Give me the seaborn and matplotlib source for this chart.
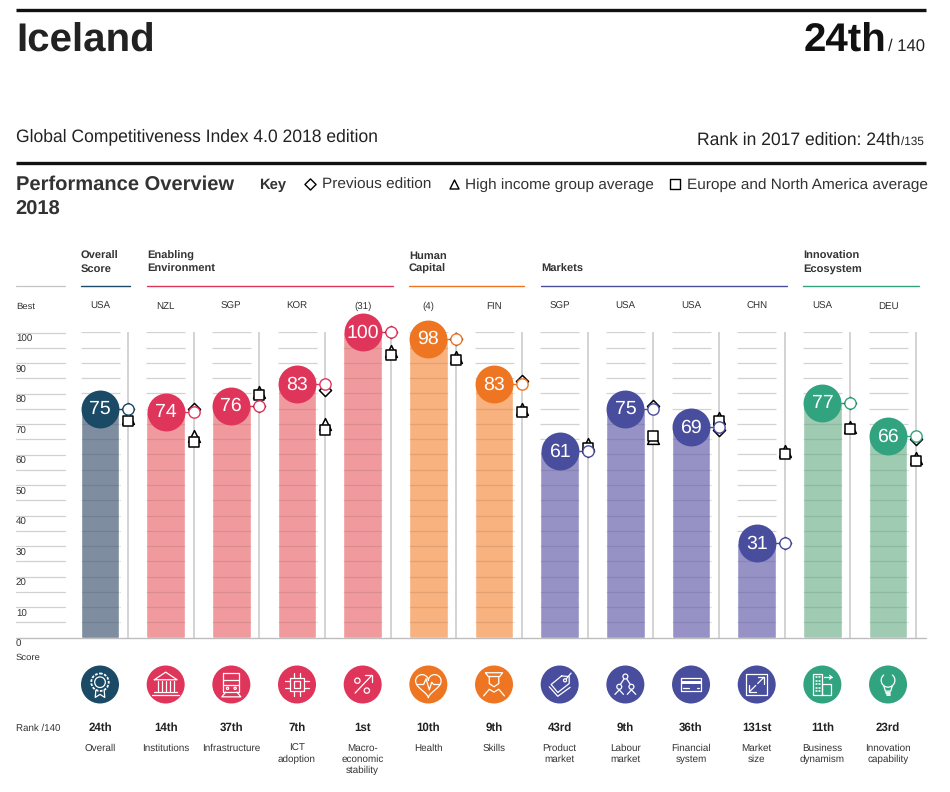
import numpy as np
import pandas as pd
import matplotlib
matplotlib.use("Agg")
import matplotlib.pyplot as plt
from matplotlib.patches import Circle, Rectangle
import seaborn as sns

pillars = ["Overall", "Institutions", "Infrastructure", "ICT\nadoption", "Macro-\neconomic\nstability",
           "Health", "Skills", "Product\nmarket", "Labour\nmarket", "Financial\nsystem",
           "Market\nsize", "Business\ndynamism", "Innovation\ncapability"]
groups = ["overall", "enabling", "enabling", "enabling", "enabling", "human", "human",
          "markets", "markets", "markets", "markets", "innovation", "innovation"]
scores = [75, 74, 76, 83, 100, 98, 83, 61, 75, 69, 31, 77, 66]
previous = [75, 75, 76, 81, 100, 98, 84, 61, 76, 68, 31, 77, 65]
high_income = [72, 66, 80.5, 70, 94, 92, 75, 63.5, 65.5, 72, 61, 69, 59]
europe = [71, 64, 79.5, 68, 92.5, 91, 74, 62, 66, 71, 60, 68.5, 58]
best = ["USA", "NZL", "SGP", "KOR", "(31)", "(4)", "FIN", "SGP", "USA", "USA", "CHN", "USA", "DEU"]
ranks = ["24th", "14th", "37th", "7th", "1st", "10th", "9th", "43rd", "9th", "36th", "131st", "11th", "23rd"]
tick_values = [0, 10, 20, 30, 40, 50, 60, 70, 80, 90, 100]

dark = {"overall": "#1B4A66", "enabling": "#E0355B", "human": "#EE7623",
        "markets": "#484D9E", "innovation": "#31A37F"}
light = {"overall": "#7F8DA0", "enabling": "#F09A9E", "human": "#F8B27F",
         "markets": "#9692C6", "innovation": "#9FCBB2"}
headers = [("Overall\nScore", 81, 130, "overall"), ("Enabling\nEnvironment", 147, 393, "enabling"),
           ("Human\nCapital", 409, 524, "human"), ("Markets", 541, 787, "markets"),
           ("Innovation\nEcosystem", 803, 919, "innovation")]

sns.set_style("white")
plt.rcParams["font.family"] = ["Liberation Sans", "DejaVu Sans"]
plt.rcParams["text.hinting"] = "no_hinting"

W, H = 950, 792
X0, DX = 100.0, 65.67
Y0, Y100 = 637.5, 332.5
fig = plt.figure(figsize=(W / 100, H / 100), dpi=100)
ax = fig.add_axes([0, (H - Y0) / H, 1, (Y0 - Y100) / H])
ax.patch.set_alpha(0)

df = pd.DataFrame({"idx": np.arange(len(pillars)), "score": scores, "group": groups,
                   "prev": previous, "high": high_income, "eur": europe})
sns.barplot(data=df, x="idx", y="score", hue="group", palette=light, dodge=False, native_scale=True,
            width=38.5 / DX, saturation=1, legend=False, ax=ax, zorder=1)
idx = df["idx"].to_numpy()
offset = 28 / DX
half = 19.5 / DX
levels = np.arange(5, 101, 5)
for i in idx:
    ax.vlines(i + offset, 0, 100, color="#C8C8C8", lw=1.1, zorder=2)
    ax.hlines(levels, i - half, i + half, color="#D2D2D2", lw=0.9, zorder=0.5)
    inside = levels[levels < scores[i]]
    ax.hlines(inside, i - half, i + half, color="black", alpha=0.09, lw=0.9, zorder=2)
    ax.plot([i, i + offset], [scores[i]] * 2, color=dark[groups[i]], lw=1, zorder=3, clip_on=False)

common = dict(ax=ax, clip_on=False, legend=False, edgecolor="black", linewidth=1.1, color="white")
sns.scatterplot(data=df, x=idx + offset, y="prev", marker="D", s=38, zorder=4, **common)
sns.scatterplot(data=df, x=idx + offset, y="high", marker="^", s=72, zorder=5, **common)
sns.scatterplot(data=df, x=idx + offset, y="eur", marker="s", s=44, zorder=6, **common)
for i in idx:
    ax.scatter(i + offset, scores[i], s=66, facecolor="white", edgecolor=dark[groups[i]],
               linewidth=1, zorder=7, clip_on=False)
    ax.scatter(i, scores[i], s=745, color=dark[groups[i]], linewidth=0, zorder=8, clip_on=False)
    ax.text(i, scores[i] - 0.2, str(scores[i]), color="white", fontsize=14, ha="center", va="center", zorder=9)
ax.set_xlim(-X0 / DX, (W - X0) / DX)
ax.set_ylim(0, 100)
ax.axis("off")

# ---- page furniture in pixel coordinates
pg = fig.add_axes([0, 0, 1, 1], zorder=-1)
pg.set_xlim(0, W); pg.set_ylim(H, 0); pg.axis("off")
ic = fig.add_axes([0, 0, 1, 1], zorder=5)
ic.set_xlim(0, W); ic.set_ylim(H, 0); ic.axis("off"); ic.patch.set_alpha(0)

pg.plot([16, 926], [10, 10], color="#111111", lw=2.4, solid_capstyle="butt")
pg.plot([16, 926], [163, 163], color="#111111", lw=2.4, solid_capstyle="butt")
pg.text(16, 52, "Iceland", fontsize=29, fontweight="bold", color="#222222", ha="left", va="baseline")
pg.text(886, 52, "24th", fontsize=29, fontweight="bold", color="#111111", ha="right", va="baseline")
pg.text(888, 51, "/ 140", fontsize=12, color="#222222", ha="left", va="baseline")
pg.text(16, 141, "Global Competitiveness Index 4.0 2018 edition", fontsize=12.65, color="#222222", va="baseline")
pg.text(900, 145, "Rank in 2017 edition: 24th", fontsize=12.65, color="#222222", ha="right", va="baseline")
pg.text(901, 145, "/135", fontsize=8.5, color="#222222", ha="left", va="baseline")
pg.text(16, 190, "Performance Overview", fontsize=14.5, fontweight="bold", color="#333333", va="baseline")
pg.text(15, 215, "2018", fontsize=14.5, fontweight="bold", color="#333333", va="baseline")
pg.text(259, 189, "Key", fontsize=10.6, fontweight="bold", color="#333333", va="baseline")
pg.text(322, 189, "Previous edition", fontsize=11.1, color="#333333", va="baseline")
pg.text(465, 189, "High income group average", fontsize=11.1, color="#333333", va="baseline")
pg.text(687, 189, "Europe and North America average", fontsize=11.1, color="#333333", va="baseline")
pg.scatter([310], [184], marker="D", s=32, facecolor="white", edgecolor="black", linewidth=1)
pg.scatter([454], [184], marker="^", s=42, facecolor="white", edgecolor="black", linewidth=1)
pg.scatter([675], [184], marker="s", s=60, facecolor="white", edgecolor="black", linewidth=1)

pg.plot([16, 65], [285.5, 285.5], color="#C4C4C4", lw=0.9)
for text, x0, x1, g in headers:
    pg.plot([x0, x1], [286, 286], color=dark[g], lw=1)
    pg.text(x0, 274, text, fontsize=8, fontweight="bold", color="#333333",
            va="bottom", ha="left", linespacing=1.3)
pg.text(16, 309, "Best", fontsize=6.8, color="#333333", va="baseline")
pg.text(16, 660, "Score", fontsize=6.8, color="#333333", va="baseline")
pg.text(16, 731, "Rank /140", fontsize=7, color="#333333", va="baseline")
pg.plot([16, 926], [637.5, 637.5], color="#BDBDBD", lw=1, zorder=0)
for v in levels:
    y = Y0 - (Y0 - Y100) * v / 100
    pg.plot([16, 65], [y, y], color="#D0D0D0", lw=0.9)
for v in tick_values:
    y = Y0 - (Y0 - Y100) * v / 100 + 9.5
    pg.text(16, y, str(v), fontsize=7, color="#333333", va="baseline")


def line(pts, cx, cy, r=19, lw=0.9):
    a = np.array(pts, float)
    ic.plot(cx + a[:, 0] * r, cy + a[:, 1] * r, color="white", lw=lw, solid_joinstyle="round", solid_capstyle="round")


def ring(x, y, rad, cx, cy, r=19, lw=0.9, ls="-"):
    ic.add_patch(Circle((cx + x * r, cy + y * r), rad * r, fill=False, ec="white", lw=lw, ls=ls))


def box(x0, y0, x1, y1, cx, cy):
    line([(x0, y0), (x1, y0), (x1, y1), (x0, y1), (x0, y0)], cx, cy)


def icon(k, cx, cy):
    if k == 0:
        ring(0, -.12, .46, cx, cy, ls=(0, (1.5, .8)), lw=1.3); ring(0, -.12, .28, cx, cy)
        line([(-.22, .3), (-.25, .68), (0, .52), (.25, .68), (.22, .3)], cx, cy)
    elif k == 1:
        line([(-.6, -.25), (0, -.65), (.6, -.25), (-.6, -.25)], cx, cy)
        for x in (-.42, -.21, 0, .21, .42):
            line([(x, -.2), (x, .35)], cx, cy)
        line([(-.6, .38), (.6, .38)], cx, cy); line([(-.7, .55), (.7, .55)], cx, cy)
    elif k == 2:
        box(-.42, -.6, .42, .4, cx, cy); line([(-.42, -.25), (.42, -.25)], cx, cy)
        line([(-.42, 0), (.42, 0)], cx, cy)
        ring(-.2, .2, .06, cx, cy); ring(.2, .2, .06, cx, cy)
        line([(-.3, .4), (-.5, .65), (.5, .65), (.3, .4)], cx, cy)
    elif k == 3:
        box(-.36, -.36, .36, .36, cx, cy); box(-.18, -.18, .18, .18, cx, cy)
        for t in (-.18, .18):
            line([(t, -.36), (t, -.62)], cx, cy); line([(t, .36), (t, .62)], cx, cy)
            line([(-.36, t), (-.62, t)], cx, cy); line([(.36, t), (.62, t)], cx, cy)
    elif k == 4:
        ring(-.28, -.2, .14, cx, cy); ring(.22, .32, .14, cx, cy)
        line([(-.4, .45), (.48, -.48)], cx, cy); line([(.12, -.48), (.48, -.48), (.48, -.12)], cx, cy)
    elif k == 5:
        t = np.linspace(0, 2 * np.pi, 80)
        line(np.c_[.042 * 16 * np.sin(t) ** 3,
                   -.042 * (13 * np.cos(t) - 5 * np.cos(2 * t) - 2 * np.cos(3 * t) - np.cos(4 * t)) - .02], cx, cy)
        line([(-.62, 0), (-.25, 0), (-.12, -.3), (.05, .28), (.18, -.12), (.28, 0), (.62, 0)], cx, cy)
    elif k == 6:
        line([(-.45, -.62), (.45, -.62), (.3, -.42), (-.3, -.42), (-.45, -.62)], cx, cy)
        line([(-.25, -.42), (-.25, -.05), (0, .12), (.25, -.05), (.25, -.42)], cx, cy)
        line([(-.55, .6), (-.25, .25), (0, .4), (.25, .25), (.55, .6)], cx, cy)
    elif k == 7:
        line([(.1, -.45), (.5, -.42), (.5, -.05), (-.1, .42), (-.45, 0), (.1, -.45)], cx, cy)
        line([(-.55, .12), (-.1, .62), (.55, .15)], cx, cy); ring(.28, -.22, .08, cx, cy)
        line([(.35, -.3), (.6, -.6)], cx, cy)
    elif k == 8:
        ring(0, -.42, .13, cx, cy); ring(-.32, .12, .13, cx, cy); ring(.32, .12, .13, cx, cy)
        line([(-.08, -.28), (-.25, -.02)], cx, cy); line([(.08, -.28), (.25, -.02)], cx, cy)
        line([(-.55, .52), (-.32, .28), (-.1, .52)], cx, cy); line([(.1, .52), (.32, .28), (.55, .52)], cx, cy)
    elif k == 9:
        box(-.55, -.35, .55, .35, cx, cy)
        ic.add_patch(Rectangle((cx - .55 * 19, cy - .2 * 19), 1.1 * 19, .18 * 19, color="white", lw=0))
        line([(-.42, .18), (-.1, .18)], cx, cy); line([(.3, .18), (.42, .18)], cx, cy)
    elif k == 10:
        box(-.55, -.55, .55, .55, cx, cy)
        line([(.05, -.38), (.38, -.38), (.38, -.05)], cx, cy); line([(.38, -.38), (.05, -.05)], cx, cy)
        line([(-.38, .05), (-.38, .38), (-.05, .38)], cx, cy); line([(-.38, .38), (-.05, .05)], cx, cy)
    elif k == 11:
        box(-.5, -.55, 0, .55, cx, cy); box(0, -.05, .45, .55, cx, cy)
        for x in (-.34, -.16):
            for y in (-.38, -.2, -.02, .16, .34):
                line([(x, y), (x + .04, y)], cx, cy, lw=1.1)
        line([(.08, -.38), (.5, -.38)], cx, cy); line([(.38, -.48), (.5, -.38), (.38, -.28)], cx, cy)
    else:
        t = np.linspace(np.radians(130), np.radians(410), 50)
        line(np.c_[.36 * np.cos(t), -.22 - .36 * np.sin(t)][::-1], cx, cy)
        line([(-.23, .05), (-.14, .35), (.14, .35), (.23, .05)], cx, cy)
        line([(-.12, .45), (.12, .45)], cx, cy, lw=1.3); line([(-.08, .55), (.08, .55)], cx, cy, lw=1.3)


for i, name in enumerate(pillars):
    cx = X0 + DX * i
    pg.text(cx, 309, best[i], fontsize=7, color="#333333", ha="center", va="baseline")
    ic.add_patch(Circle((cx, 684.5), 19, color=dark[groups[i]], lw=0))
    icon(i, cx, 684.5)
    pg.text(cx, 731, ranks[i], fontsize=8.3, fontweight="bold", color="#222222", ha="center", va="baseline")
    pg.text(cx, 744, name, fontsize=7.1, color="#333333", ha="center", va="top", linespacing=1.2)

fig.savefig("out.png", dpi=100, facecolor="white")
